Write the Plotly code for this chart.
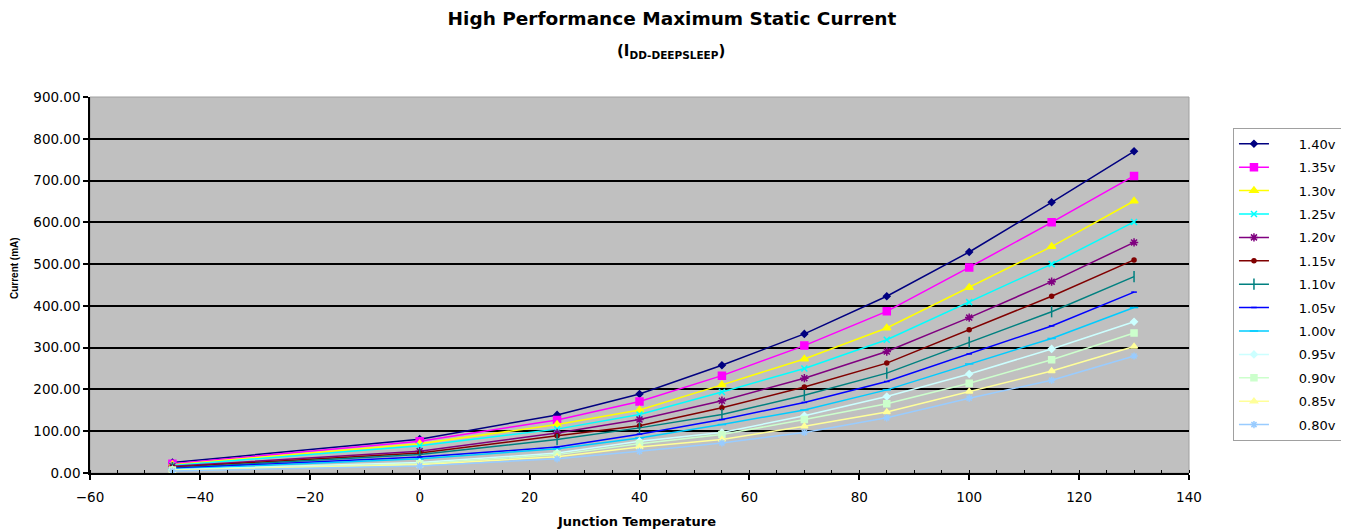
import plotly.graph_objects as go

temps = [-45, 0, 25, 40, 55, 70, 85, 100, 115, 130]
voltages = ["1.40v", "1.35v", "1.30v", "1.25v", "1.20v", "1.15v", "1.10v",
            "1.05v", "1.00v", "0.95v", "0.90v", "0.85v", "0.80v"]

i_140 = [25, 81, 139, 189, 258, 333, 423, 529, 648, 770]
i_135 = [22, 76, 127, 171, 233, 305, 387, 492, 600, 711]
i_130 = [20, 70, 116, 151, 211, 273, 347, 444, 542, 651]
i_125 = [18, 65, 105, 140, 194, 250, 319, 409, 500, 601]
i_120 = [16, 52, 96, 128, 173, 227, 291, 372, 458, 552]
i_115 = [14, 48, 89, 113, 156, 206, 263, 343, 423, 510]
i_110 = [12, 44, 80, 108, 140, 186, 239, 313, 386, 470]
i_105 = [11, 38, 62, 93, 128, 169, 219, 285, 352, 433]
i_100 = [9, 34, 58, 84, 116, 151, 199, 261, 322, 396]
i_095 = [8, 25, 48, 76, 97, 137, 183, 237, 297, 362]
i_090 = [7, 22, 44, 70, 92, 128, 166, 215, 271, 335]
i_085 = [6, 20, 39, 62, 80, 112, 146, 195, 244, 303]
i_080 = [5, 17, 34, 52, 72, 97, 132, 179, 222, 280]

series = [i_140, i_135, i_130, i_125, i_120, i_115, i_110,
          i_105, i_100, i_095, i_090, i_085, i_080]

colors = ["#000080", "#FF00FF", "#FFFF00", "#00FFFF", "#800080", "#800000", "#008080",
          "#0000FF", "#00CCFF", "#CCFFFF", "#CCFFCC", "#FFFF99", "#99CCFF"]
symbols = ["diamond", "square", "triangle-up", "x-thin-open", "asterisk-open", "circle",
           "line-ns-open", "line-ew-open", "line-ew-open", "diamond", "square",
           "triangle-up", "asterisk-open"]
sizes = [5, 7, 7, 6, 7, 4, 8, 4, 6, 5, 6, 6, 6]

FONT = "DejaVu Sans, Arial, sans-serif"
BOLDF = "DejaVu Sans, Arial, sans-serif"

fig = go.Figure()
for name, ys, c, s, sz in zip(voltages, series, colors, symbols, sizes):
    fig.add_trace(go.Scatter(
        x=temps, y=ys, mode="lines+markers",
        name="      " + name, legendgroup=name,
        line=dict(color=c, width=1.5),
        marker=dict(color=c, symbol=s, size=sz, line=dict(color=c, width=1.5)),
    ))

fig.update_layout(
    width=1349, height=531,
    paper_bgcolor="white", plot_bgcolor="#C0C0C0",
    margin=dict(l=82, r=168, t=89, b=66),
    font=dict(family=FONT, size=13, color="black"),
    title=dict(
        text="<b>High Performance Maximum Static Current</b>",
        x=0.4922, xanchor="center", xref="container",
        y=0.981, yanchor="middle", yref="container",
        font=dict(family=BOLDF, size=18.5, color="black"),
    ),
    legend=dict(
        x=1.04, xanchor="left", y=0.918, yanchor="top",
        bgcolor="white", bordercolor="#A0A0A0", borderwidth=1,
        font=dict(family=FONT, size=13, color="black"),
        tracegroupgap=3.5, itemwidth=30,
    ),
    showlegend=True,
    annotations=[
        dict(text="<b>(I<sub>DD-DEEPSLEEP</sub>)</b>", xref="paper", yref="paper",
             x=0.5287, y=1.1197, xanchor="center", yanchor="middle", showarrow=False,
             font=dict(family=BOLDF, size=15, color="black")),
        dict(text="<b>Junction Temperature</b>", xref="paper", yref="paper",
             x=0.4977, y=-0.1277, xanchor="center", yanchor="middle", showarrow=False,
             font=dict(family=BOLDF, size=13, color="black")),
        dict(text="<b>Current (mA)</b>", xref="paper", yref="paper", textangle=-90,
             x=-0.0692, y=0.545, xanchor="center", yanchor="middle", showarrow=False,
             font=dict(family="Liberation Sans, Arial, sans-serif", size=10, color="black")),
    ],
)

fig.update_xaxes(
    range=[-60, 140], dtick=20, tick0=0,
    showgrid=False, zeroline=False,
    showline=True, linecolor="black", linewidth=1.5,
    ticks="outside", ticklen=5, tickcolor="black", tickwidth=1.5,
    minor=dict(ticks="inside", dtick=5, ticklen=3, tickcolor="black", tickwidth=1),
    tickfont=dict(size=13.5),
    ticklabelstandoff=6,
)
fig.update_yaxes(
    range=[0, 900], dtick=100, tickformat=".2f",
    showgrid=True, gridcolor="black", gridwidth=1.5,
    zeroline=False,
    showline=True, linecolor="black", linewidth=1.5,
    ticks="outside", ticklen=5, tickcolor="black", tickwidth=1.5,
    tickfont=dict(size=13.5),
)

fig.add_shape(type="rect", xref="paper", yref="paper", x0=0, x1=1, y0=0, y1=1,
              line=dict(color="#A0A0A0", width=1), fillcolor="rgba(0,0,0,0)", layer="below")

fig.write_html("out.html")
